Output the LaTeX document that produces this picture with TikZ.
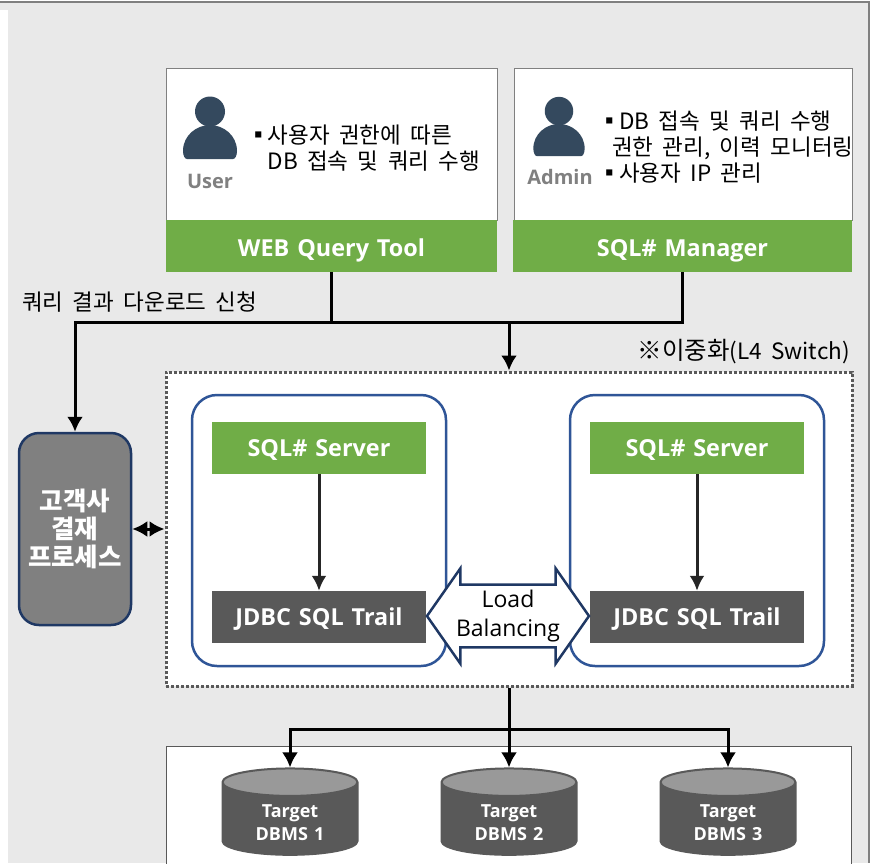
\documentclass[tikz,border=0pt]{standalone}
\usepackage{fontspec}
\setmainfont[WordSpace=1.85]{Noto Sans CJK KR}
\newfontfamily\barfont[WordSpace=1.3]{Open Sans}
\usetikzlibrary{arrows.meta,shapes.arrows,shapes.geometric}
\definecolor{panelgray}{HTML}{E9E9E9}
\definecolor{toolgreen}{HTML}{70AD47}
\definecolor{traildark}{HTML}{595959}
\definecolor{userblue}{HTML}{34495E}
\definecolor{roundblue}{HTML}{2F5597}
\definecolor{navyline}{HTML}{1F3864}
\newcommand\bulletmark[1]{\makebox[#1][l]{▪}}
\tikzset{
    cardbox/.style={draw=gray,fill=white,line width=1pt,inner sep=0pt},
    greenbar/.style={fill=toolgreen,text=white,font=\barfont\fontsize{23.4}{27}\selectfont\bfseries,inner sep=0pt,
        text height=25pt,text depth=5pt},
    serverbar/.style={greenbar,text height=22pt},
    trailbar/.style={serverbar,fill=traildark},
    hostbox/.style={draw=roundblue,fill=white,line width=2.5pt,rounded corners=25pt,inner sep=0pt,
        minimum width=254pt,minimum height=271pt},
    bodytext/.style={align=left,inner sep=0pt,font=\fontsize{22.5}{26}\selectfont},
    rolename/.style={text=gray,inner sep=0pt,font=\barfont\fontsize{20}{24}\selectfont\bfseries},
    wire/.style={line width=3pt,black},
    tipwire/.style={wire,-{Latex[length=15pt,width=16pt]}},
    dbcyl/.style={cylinder,shape border rotate=90,aspect=0.4,draw=traildark,line width=2pt,
        cylinder uses custom fill,cylinder body fill=traildark,cylinder end fill=black!40,
        minimum width=135pt,minimum height=82pt,inner sep=0pt,text=white,align=center,
        font=\barfont\fontsize{18}{23}\selectfont\bfseries},
    person/.pic={
        \fill[userblue] (0,-41.5) circle (15);
        \fill[userblue] (-27,-2) .. controls (-27,-18) and (-13,-28) .. (0,-28)
            .. controls (13,-28) and (27,-18) .. (27,-2)
            .. controls (27,3) and (25,6) .. (23,6) -- (-23,6)
            .. controls (-25,6) and (-27,3) .. (-27,-2) -- cycle;
    }
}
\begin{document}
\begin{tikzpicture}[x=1pt,y=-1pt]
    \useasboundingbox (0,0) rectangle (876,863);
    \clip (0,0) rectangle (876,863);

    \fill[panelgray] (8,3) rectangle (869,863);
    \fill[panelgray] (0,3) rectangle (8,10);
    \draw[gray,line width=2pt] (0,2) -- (869,2) -- (869,863);

    % top cards
    \node[cardbox,minimum width=331pt,minimum height=152pt] (usercard) at (331.5,144) {};
    \node[cardbox,minimum width=338pt,minimum height=152pt] (admincard) at (683,144) {};
    \node[greenbar,minimum width=331pt,minimum height=52pt] (webtool) at (331.5,246) {WEB Query Tool};
    \node[greenbar,minimum width=339pt,minimum height=52pt] (manager) at (682.5,246) {SQL\# Manager};

    \pic at (210,153) {person};
    \pic[scale=0.95] at (559,150.5) {person};
    \node[rolename] (userlabel) at (210,181) {User};
    \node[rolename] (adminlabel) at (560,177) {Admin};
    \node[bodytext,anchor=west] (usertext) at (247.5,148) {\bulletmark{20pt}사용자 권한에 따른\\\hspace*{20pt}DB 접속 및 쿼리 수행};
    \node[bodytext,anchor=west] (admintext) at (598,147.5) {\bulletmark{21pt}DB 접속 및 쿼리 수행\\\hspace*{14pt}권한 관리, 이력 모니터링\\\bulletmark{21pt}사용자 IP 관리};

    \node[bodytext,anchor=west] (downlabel) at (22,302) {쿼리 결과 다운로드 신청};
    \node[bodytext,anchor=east] (duallabel) at (850,352) {{\fontsize{24.5}{26}\selectfont ※이중화}(L4 Switch)};

    % duplicated servers
    \node[draw=black!65,fill=white,line width=3pt,dash pattern=on 3pt off 2pt,
        minimum width=686pt,minimum height=314pt,inner sep=0pt] (dual) at (509,529) {};
    \foreach\x/\n in {319/left,697/right}
    {   \node[hostbox] (host\n) at (\x,530.5) {};
        \node[serverbar,minimum width=214pt,minimum height=52pt] (server\n) at (\x,448) {SQL\# Server};
        \node[trailbar,minimum width=214pt,minimum height=52pt] (trail\n) at (\x,617) {JDBC SQL Trail};
        \draw[line width=3pt,black!85,-{Latex[length=15pt,width=15pt]}] (server\n) -- (trail\n);
    }
    \node[double arrow,draw=navyline,fill=white,line width=2.5pt,align=center,inner sep=0pt,
        minimum height=162pt,minimum width=95pt,double arrow head extend=14pt,
        double arrow tip angle=110,font=\barfont\fontsize{23}{29}\selectfont] (balance) at (508,616) {Load\\Balancing};

    % payment process
    \node[draw=navyline,fill=gray,line width=2.5pt,rounded corners=20pt,text=white,align=center,
        minimum width=112pt,minimum height=192pt,inner sep=0pt,
        font=\fontsize{25.5}{28}\selectfont\bfseries] (payment) at (75,529) {고객사\\결재\\프로세스};

    \coordinate (join) at (509,322);
    \coordinate (turn) at (75,322);
    \draw[wire] (webtool.south) |- (join);
    \draw[wire] (manager.south) |- (join);
    \draw[tipwire] (join) -- (dual.north);
    \draw[tipwire] (join) -- (turn) -- (payment.north);
    \draw[wire,{Latex[length=15pt,width=16pt]}-{Latex[length=15pt,width=16pt]}] (payment.east) -- (dual.west);

    % target databases
    \node[cardbox,draw=black!65,minimum width=685pt,minimum height=160pt] (dbcard) at (508.5,826) {};
    \foreach\x/\n in {290/1,509/2,728/3}
    {   \node[dbcyl] (db\n) at (\x,819) {\rule{0pt}{21pt}Target\\DBMS \n};
    }
    \coordinate (bus) at (509,729);
    \draw[tipwire] (dual.south) -- (db2.north);
    \draw[tipwire] (bus) -| (db1.north);
    \draw[tipwire] (bus) -| (db3.north);
\end{tikzpicture}
\end{document}
